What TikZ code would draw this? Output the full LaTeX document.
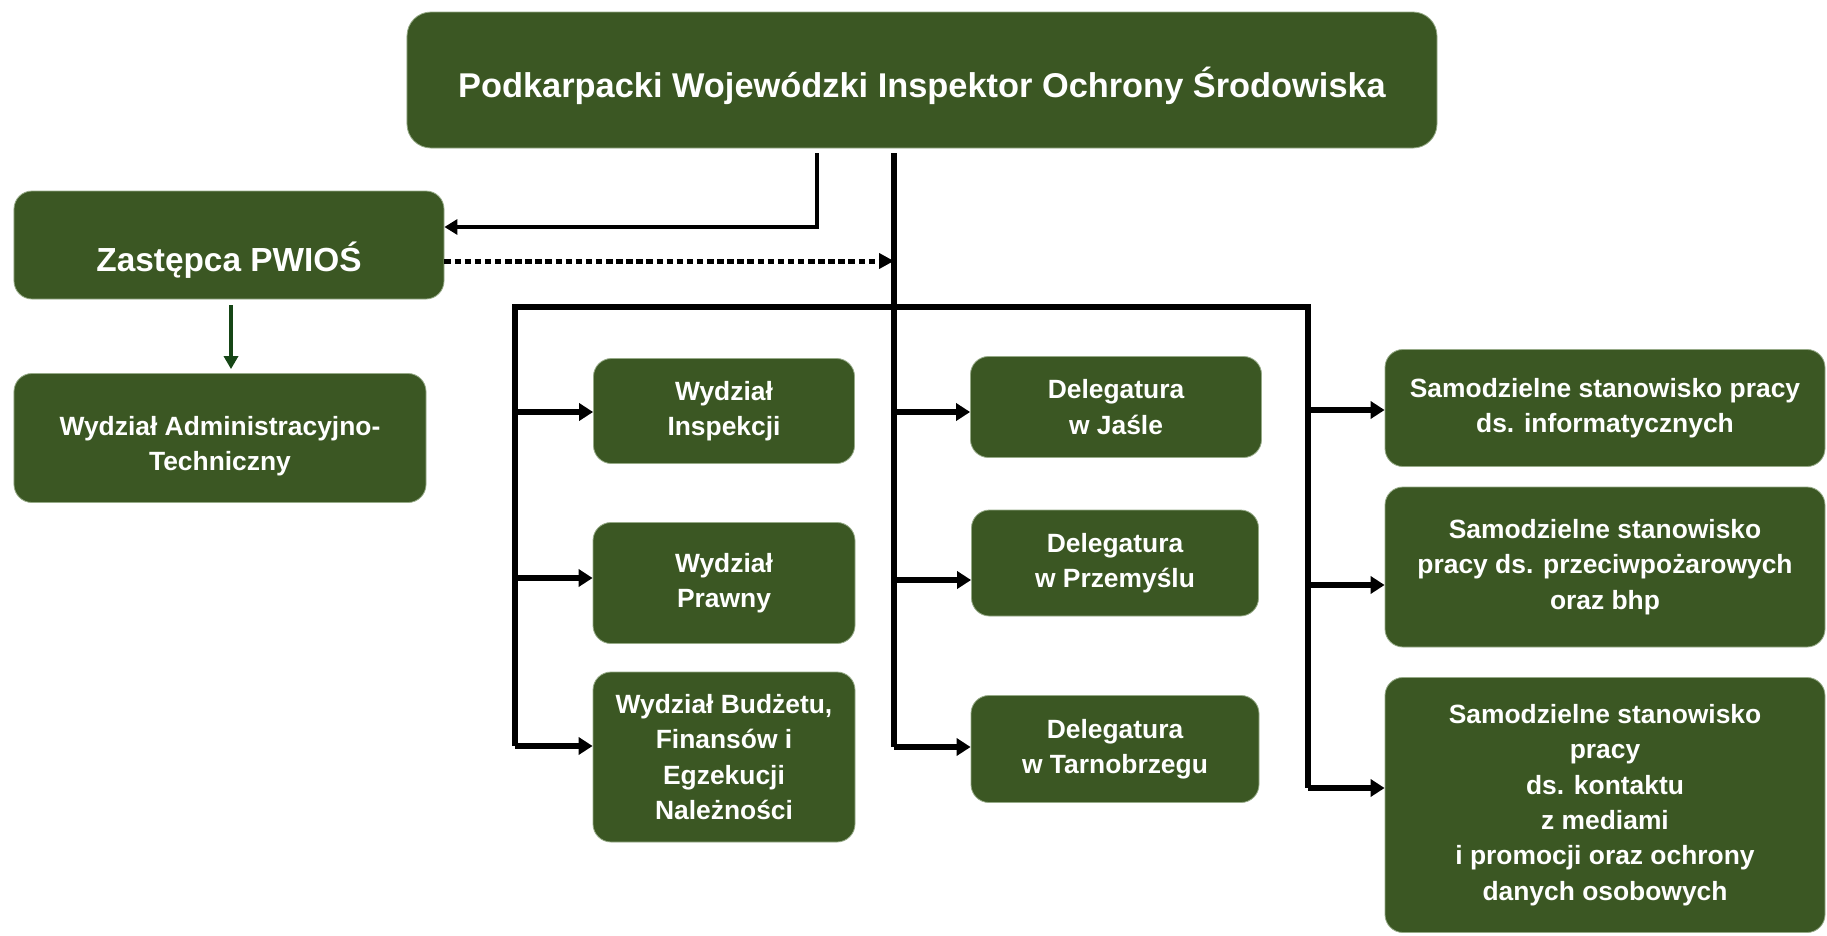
\documentclass[tikz,border=0pt]{standalone}
\usepackage{fontspec}
\setmainfont{Liberation Sans}
\usetikzlibrary{arrows.meta}

\definecolor{boxgreen}{RGB}{59,87,35}
\definecolor{boxedge}{RGB}{150,170,135}
\definecolor{darkarrow}{RGB}{22,70,22}

\tikzset{
  box/.style={rectangle, rounded corners=18bp, fill=boxgreen, draw=boxedge,
    line width=0.8pt, text=white, align=center, inner sep=0pt,
    font=\bfseries\fontsize{26.5}{35.5}\selectfont},
  bigbox/.style={box, rounded corners=24bp},
  textdrop/.style={text height=#1, text depth=0bp},
  bus/.style={line width=6bp, line join=miter},
  link/.style={line width=6bp, -{Triangle[length=14bp,width=17bp]}},
  thinlink/.style={line width=4bp, line join=miter, -{Triangle[length=13bp,width=15bp]}},
  dots/.style={line width=5bp, dash pattern=on 6.5bp off 3.6bp, -{Triangle[length=15bp,width=15bp]}},
  greenlink/.style={line width=4bp, draw=darkarrow, -{Triangle[length=13bp,width=14bp]}}
}

\begin{document}
\begin{tikzpicture}[x=1bp,y=-1bp]

    \fill [white] (0,0) rectangle (1827,935);

    % head and deputy
    \node (top) at (922,80) [bigbox, minimum width=1030bp, minimum height=136bp, textdrop=34bp,
      font=\bfseries\fontsize{34.5}{40}\selectfont] {Podkarpacki Wojewódzki Inspektor Ochrony Środowiska};
    \node (zast) at (229,245) [box, minimum width=430bp, minimum height=108bp, textdrop=52bp,
      font=\bfseries\fontsize{33.5}{40}\selectfont] {Zastępca PWIOŚ};
    \node (adm) at (220,438) [box, minimum width=412bp, minimum height=129bp] {\rule{0pt}{35bp}Wydział Administracyjno-\\Techniczny};

    % departments
    \node (insp) at (724,411) [box, minimum width=261bp, minimum height=105bp] {Wydział\\Inspekcji};
    \node (praw) at (724,583) [box, minimum width=262bp, minimum height=121bp] {Wydział\\Prawny};
    \node (budz) at (724,757) [box, minimum width=262bp, minimum height=170bp] {Wydział Budżetu,\\Finansów i\\Egzekucji\\Należności};

    % branch offices
    \node (jasl) at (1116,407) [box, minimum width=291bp, minimum height=101bp] {Delegatura\\w Jaśle};
    \node (przem) at (1115,563) [box, minimum width=287bp, minimum height=106bp] {Delegatura\\w Przemyślu};
    \node (tarn) at (1115,749) [box, minimum width=288bp, minimum height=107bp] {Delegatura\\w Tarnobrzegu};

    % independent posts
    \node (sam1) at (1605,408) [box, minimum width=440bp, minimum height=117bp] {Samodzielne stanowisko pracy\\ds. informatycznych};
    \node (sam2) at (1605,567) [box, minimum width=440bp, minimum height=160bp] {Samodzielne stanowisko\\pracy ds. przeciwpożarowych\\oraz bhp};
    \node (sam3) at (1605,805) [box, minimum width=440bp, minimum height=255bp] {Samodzielne stanowisko\\pracy\\ds. kontaktu\\z mediami\\i promocji oraz ochrony\\danych osobowych};

    \coordinate (kink) at (817,227);
    \coordinate (trunk) at (894,747);
    \coordinate (busL) at (515,307);
    \coordinate (busR) at (1308,307);

    \draw [thinlink] ([yshift=-5bp]top.south -| kink) -- (kink) -- (kink -| zast.east);
    \draw [dots] ([yshift=-16bp]zast.east) -- ([yshift=-16bp]zast.east -| trunk);
    \draw [greenlink, shorten <=6bp, shorten >=4bp] (zast.south -| 231,0) -- (adm.north -| 231,0);

    \draw [bus] ([yshift=-5bp]top.south -| trunk) -- (trunk);
    \draw [bus] (515,746) -- (busL) -- (busR) -- (1308,788);

    \foreach \y/\n in {412/insp, 578/praw, 746/budz}
      \draw [link] (busL |- 0,\y) -- (\n.west |- 0,\y);
    \foreach \y/\n in {412/jasl, 580/przem, 747/tarn}
      \draw [link] (trunk |- 0,\y) -- (\n.west |- 0,\y);
    \foreach \y/\n in {410/sam1, 585/sam2, 788/sam3}
      \draw [link] (busR |- 0,\y) -- (\n.west |- 0,\y);

\end{tikzpicture}
\end{document}
